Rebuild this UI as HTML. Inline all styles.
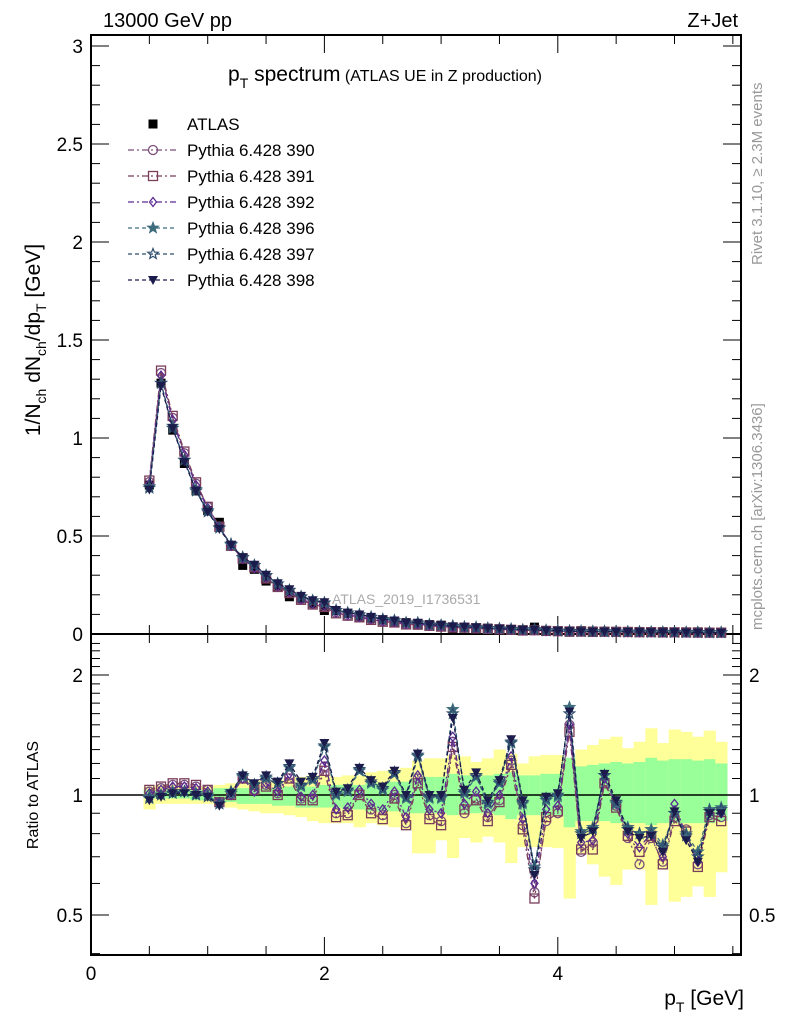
<!DOCTYPE html>
<html><head><meta charset="utf-8"><style>
body{margin:0;background:#fff}
svg{display:block;font-family:"Liberation Sans",sans-serif}
</style></head><body>
<svg id="c" width="786" height="1024" viewBox="0 0 786 1024">
<g id="bands"></g>
<g id="axes"></g>
<g id="series"></g>
<text x="103" y="27" font-size="20">13000 GeV pp</text>
<text x="738" y="27" font-size="20" text-anchor="end">Z+Jet</text>
<text x="228" y="81" font-size="21">p<tspan font-size="14" dy="7">T</tspan><tspan dy="-7"> spectrum</tspan><tspan font-size="16"> (ATLAS UE in Z production)</tspan></text>
<text x="332" y="604" font-size="14" fill="#aaa">ATLAS_2019_I1736531</text>
<text transform="translate(762,265) rotate(-90)" font-size="15" fill="#999">Rivet 3.1.10, ≥ 2.3M events</text>
<text transform="translate(762,630) rotate(-90)" font-size="15" fill="#999">mcplots.cern.ch [arXiv:1306.3436]</text>
<text transform="translate(40,340) rotate(-90)" font-size="21" text-anchor="middle">1/N<tspan font-size="14" dy="6">ch</tspan><tspan dy="-6"> dN</tspan><tspan font-size="14" dy="6">ch</tspan><tspan dy="-6">/dp</tspan><tspan font-size="14" dy="6">T</tspan><tspan dy="-6"> [GeV]</tspan></text>
<text transform="translate(38,795) rotate(-90)" font-size="16" text-anchor="middle">Ratio to ATLAS</text>
<text x="744" y="1005" font-size="21" text-anchor="end">p<tspan font-size="14" dy="7">T</tspan><tspan dy="-7"> [GeV]</tspan></text>
<g id="legend"></g>
</svg>
<script>
const xs=[0.5,0.6,0.7,0.8,0.9,1.0,1.1,1.2,1.3,1.4,1.5,1.6,1.7,1.8,1.9,2.0,2.1,2.2,2.3,2.4,2.5,2.6,2.7,2.8,2.9,3.0,3.1,3.2,3.3,3.4,3.5,3.6,3.7,3.8,3.9,4.0,4.1,4.2,4.3,4.4,4.5,4.6,4.7,4.8,4.9,5.0,5.1,5.2,5.3,5.4];
const atlas=[0.76,1.28,1.04,0.87,0.73,0.63,0.57,0.45,0.35,0.33,0.27,0.24,0.19,0.18,0.155,0.12,0.12,0.105,0.085,0.08,0.072,0.06,0.058,0.045,0.048,0.045,0.025,0.035,0.03,0.03,0.025,0.018,0.022,0.035,0.018,0.016,0.009,0.017,0.015,0.011,0.012,0.013,0.013,0.012,0.012,0.010,0.010,0.011,0.008,0.008];
const r398=[0.97,0.99,1.01,1.01,1.0,0.99,0.94,1.01,1.12,1.07,1.12,1.08,1.2,1.08,1.11,1.35,1.02,1.04,1.17,1.09,1.05,1.15,1.0,1.27,1.0,1.0,1.56,1.03,1.14,0.97,1.09,1.38,0.97,0.63,0.99,1.01,1.62,0.78,0.81,1.13,0.97,0.81,0.78,0.79,0.72,0.91,0.77,0.68,0.9,0.9];
const r397=[0.98,1.0,1.01,1.02,1.0,0.99,0.95,1.02,1.12,1.06,1.11,1.07,1.18,1.06,1.1,1.33,1.01,1.03,1.16,1.08,1.04,1.14,0.99,1.26,0.99,0.99,1.6,1.02,1.12,0.96,1.08,1.36,0.96,0.65,0.98,1.0,1.6,0.8,0.82,1.12,0.96,0.82,0.8,0.8,0.74,0.9,0.79,0.7,0.91,0.92];
const r396=[0.99,1.0,1.02,1.02,1.01,1.0,0.95,1.01,1.11,1.06,1.1,1.07,1.17,1.05,1.09,1.32,1.0,1.02,1.15,1.07,1.03,1.13,0.98,1.25,0.98,0.98,1.64,1.01,1.11,0.95,1.07,1.35,0.95,0.66,0.97,0.99,1.66,0.81,0.83,1.12,0.95,0.83,0.8,0.82,0.75,0.9,0.8,0.72,0.92,0.93];
const r392=[1.01,1.03,1.05,1.05,1.04,1.02,0.96,1.0,1.1,1.02,1.07,1.02,1.13,0.99,1.0,1.22,0.92,0.93,1.03,0.95,0.92,1.02,0.88,1.12,0.92,0.9,1.4,0.95,1.02,0.9,1.0,1.25,0.87,0.6,0.92,0.94,1.5,0.76,0.77,1.1,0.95,0.8,0.74,0.8,0.7,0.95,0.79,0.68,0.9,0.9];
const r391=[1.03,1.05,1.07,1.07,1.06,1.03,0.96,1.0,1.1,1.03,1.05,1.0,1.1,0.97,0.97,1.15,0.88,0.89,1.0,0.9,0.87,0.98,0.84,1.07,0.87,0.84,1.32,0.92,0.97,0.86,0.96,1.19,0.82,0.55,0.88,0.91,1.44,0.73,0.73,1.07,0.93,0.79,0.72,0.79,0.67,0.86,0.81,0.66,0.88,0.86];
const r390=[1.02,1.04,1.06,1.06,1.05,1.03,0.96,1.0,1.1,1.03,1.06,1.01,1.12,0.98,0.98,1.18,0.9,0.9,1.01,0.92,0.89,1.0,0.85,1.1,0.89,0.86,1.36,0.9,0.98,0.88,0.97,1.22,0.84,0.57,0.86,0.9,1.5,0.72,0.76,1.08,0.94,0.78,0.67,0.78,0.68,0.88,0.82,0.67,0.89,0.88];
const greenLo=[0.98,0.98,0.98,0.98,0.97,0.97,0.96,0.96,0.95,0.95,0.95,0.94,0.94,0.93,0.93,0.93,0.93,0.92,0.92,0.91,0.91,0.91,0.90,0.9,0.9,0.9,0.89,0.9,0.9,0.9,0.89,0.87,0.89,0.89,0.89,0.89,0.83,0.86,0.86,0.86,0.85,0.85,0.85,0.84,0.85,0.85,0.85,0.85,0.85,0.86];
const greenHi=[1.03,1.03,1.03,1.03,1.03,1.03,1.04,1.04,1.04,1.04,1.04,1.04,1.05,1.05,1.05,1.06,1.06,1.06,1.06,1.07,1.07,1.08,1.08,1.1,1.11,1.11,1.13,1.12,1.11,1.12,1.13,1.14,1.12,1.12,1.13,1.13,1.24,1.18,1.19,1.2,1.21,1.2,1.21,1.24,1.22,1.23,1.23,1.22,1.23,1.2];
const yelLo=[0.92,0.95,0.95,0.95,0.95,0.95,0.94,0.93,0.92,0.91,0.9,0.9,0.89,0.88,0.86,0.85,0.85,0.85,0.83,0.85,0.84,0.83,0.82,0.714,0.714,0.77,0.695,0.78,0.76,0.786,0.76,0.675,0.74,0.74,0.74,0.736,0.55,0.714,0.67,0.624,0.595,0.65,0.65,0.53,0.65,0.54,0.555,0.59,0.555,0.64];
const yelHi=[1.05,1.06,1.06,1.05,1.05,1.05,1.06,1.07,1.08,1.09,1.08,1.09,1.1,1.11,1.12,1.12,1.11,1.12,1.12,1.14,1.15,1.16,1.17,1.22,1.236,1.236,1.26,1.25,1.21,1.236,1.3,1.27,1.2,1.25,1.26,1.26,1.22,1.3,1.335,1.38,1.4,1.31,1.36,1.47,1.35,1.46,1.44,1.4,1.45,1.36];
const mainTicks=[0,0.5,1,1.5,2,2.5,3];
const mainTickLabels=["0","0.5","1","1.5","2","2.5","3"];
const ratioTicks=[0.5,1,2];
const xTicks=[0,2,4];

const L=91,R=741,T=35,MB=634,RB=955;
const X=v=>L+v*116.7;
const Y=v=>MB-v*196;
const RY=v=>795-120*Math.log2(v);
const NS='http://www.w3.org/2000/svg';
function mk(tag,attrs,parent){const e=document.createElementNS(NS,tag);for(const k in attrs)e.setAttribute(k,attrs[k]);parent.appendChild(e);return e;}
const bands=document.getElementById('bands'),axes=document.getElementById('axes'),ser=document.getElementById('series'),leg=document.getElementById('legend');

xs.forEach((x,i)=>{
  let r=mk('rect',{x:X(x-0.05),width:116.7*0.1+0.5,y:RY(yelHi[i]),height:RY(yelLo[i])-RY(yelHi[i]),fill:'#ffff99'},bands);
  
  
  let g=mk('rect',{x:X(x-0.05),width:116.7*0.1+0.5,y:RY(greenHi[i]),height:RY(greenLo[i])-RY(greenHi[i]),fill:'#99ff99'},bands);
  
  
});

mk('rect',{x:L,y:T,width:R-L,height:MB-T,fill:'none',stroke:'#000','stroke-width':2},axes);
mk('rect',{x:L,y:MB,width:R-L,height:RB-MB,fill:'none',stroke:'#000','stroke-width':2},axes);
mk('line',{x1:L,x2:R,y1:RY(1),y2:RY(1),stroke:'#000','stroke-width':1.5},axes);
for(let v=0;v<=3.001;v+=0.1){const big=Math.abs(v*2-Math.round(v*2))<1e-6;const y=Y(v);
 mk('line',{x1:L,x2:L+(big?18:9),y1:y,y2:y,stroke:'#000'},axes);
 mk('line',{x1:R,x2:R-(big?18:9),y1:y,y2:y,stroke:'#000'},axes);}
mainTicks.forEach((v,i)=>{const t=mk('text',{x:L-8,y:Y(v)+7,'font-size':19,'text-anchor':'end'},axes);t.textContent=mainTickLabels[i];
 
 });
for(let v=0.4;v<=2.5;v+=0.1){const y=RY(v);if(y<MB||y>RB)continue;const big=[0.5,1,2].some(b=>Math.abs(b-v)<1e-6);
 mk('line',{x1:L,x2:L+(big?18:9),y1:y,y2:y,stroke:'#000'},axes);
 mk('line',{x1:R,x2:R-(big?18:9),y1:y,y2:y,stroke:'#000'},axes);}
ratioTicks.forEach(v=>{const t=mk('text',{x:L-8,y:RY(v)+7,'font-size':19,'text-anchor':'end'},axes);t.textContent=String(v);
 
 
 const t2=mk('text',{x:R+8,y:RY(v)+7,'font-size':19},axes);t2.textContent=String(v);
 
 });
for(let v=0;v<=5.5;v+=0.5){const x=X(v);const big=Math.abs(v-Math.round(v/2)*2)<1e-6;
 [[MB,MB-(big?18:9)],[RB,RB-(big?18:9)],[MB,MB+(big?18:9)],[T,T+(big?18:9)]].forEach(p=>mk('line',{x1:x,x2:x,y1:p[0],y2:p[1],stroke:'#000'},axes));}
xTicks.forEach(v=>{const t=mk('text',{x:X(v),y:980,'font-size':19,'text-anchor':'middle'},axes);t.textContent=String(v);
 
 });

function marker(shape,col,x,y,p){
 const s=4.5;
 if(shape==='sq-fill')return mk('rect',{x:x-s,y:y-s,width:2*s,height:2*s,fill:'#000'},p);
 if(shape==='circle')return mk('circle',{cx:x,cy:y,r:s,fill:'none',stroke:col,'stroke-width':1.3},p);
 if(shape==='square')return mk('rect',{x:x-s,y:y-s,width:2*s,height:2*s,fill:'none',stroke:col,'stroke-width':1.3},p);
 if(shape==='diamond')return mk('polygon',{points:`${x},${y-s} ${x+3.5},${y} ${x},${y+s} ${x-3.5},${y}`,fill:'none',stroke:col,'stroke-width':1.3},p);
 if(shape==='star'||shape==='star-open'){let pts=[];for(let k=0;k<10;k++){const a=-Math.PI/2+k*Math.PI/5,rr=k%2?2.3:5.5;pts.push((x+rr*Math.cos(a)).toFixed(1)+','+(y+rr*Math.sin(a)).toFixed(1));}
  return mk('polygon',{points:pts.join(' '),fill:shape==='star'?col:'none',stroke:col,'stroke-width':1.2},p);}
 if(shape==='tri-down')return mk('polygon',{points:`${x-5},${y-4} ${x+5},${y-4} ${x},${y+5}`,fill:col},p);
}
const seriesDefs=[
 {name:'Pythia 6.428 390',r:r390,col:'#7b4f7b',shape:'circle',dash:'6,3,2,3'},
 {name:'Pythia 6.428 391',r:r391,col:'#7a3d5a',shape:'square',dash:'6,3,2,3'},
 {name:'Pythia 6.428 392',r:r392,col:'#5a2a90',shape:'diamond',dash:'6,3,2,3'},
 {name:'Pythia 6.428 396',r:r396,col:'#3e6e7e',shape:'star',dash:'4,3'},
 {name:'Pythia 6.428 397',r:r397,col:'#2e4e6e',shape:'star-open',dash:'4,3'},
 {name:'Pythia 6.428 398',r:r398,col:'#1c1c4c',shape:'tri-down',dash:'4,3'}
];
atlas.forEach((v,i)=>{const m=marker('sq-fill','#000',X(xs[i]),Y(v),ser);
 
 });
seriesDefs.forEach(sd=>{
 const g=mk('g',{},ser);
 
 
 const mp=xs.map((x,i)=>X(x).toFixed(1)+','+Y(atlas[i]*sd.r[i]).toFixed(1)).join(' ');
 mk('polyline',{points:mp,fill:'none',stroke:sd.col,'stroke-width':1.3,'stroke-dasharray':sd.dash},g);
 const rp=xs.map((x,i)=>X(x).toFixed(1)+','+RY(sd.r[i]).toFixed(1)).join(' ');
 mk('polyline',{points:rp,fill:'none',stroke:sd.col,'stroke-width':1.3,'stroke-dasharray':sd.dash},g);
 xs.forEach((x,i)=>{
  const a=marker(sd.shape,sd.col,X(x),Y(atlas[i]*sd.r[i]),g);
  
  
  const b=marker(sd.shape,sd.col,X(x),RY(sd.r[i]),g);
  
  });
});
const lm=marker('sq-fill','#000',153,124,leg);


const lt=mk('text',{x:187,y:130,'font-size':17},leg);lt.textContent='ATLAS';


seriesDefs.forEach((sd,k)=>{const y=150+k*26;
 mk('line',{x1:128,x2:176,y1:y,y2:y,stroke:sd.col,'stroke-width':1.2,'stroke-dasharray':sd.dash},leg);
 const m=marker(sd.shape,sd.col,153,y,leg);
 
 
 const t=mk('text',{x:187,y:y+6,'font-size':17},leg);t.textContent=sd.name;
 
 });
</script>
</body></html>
